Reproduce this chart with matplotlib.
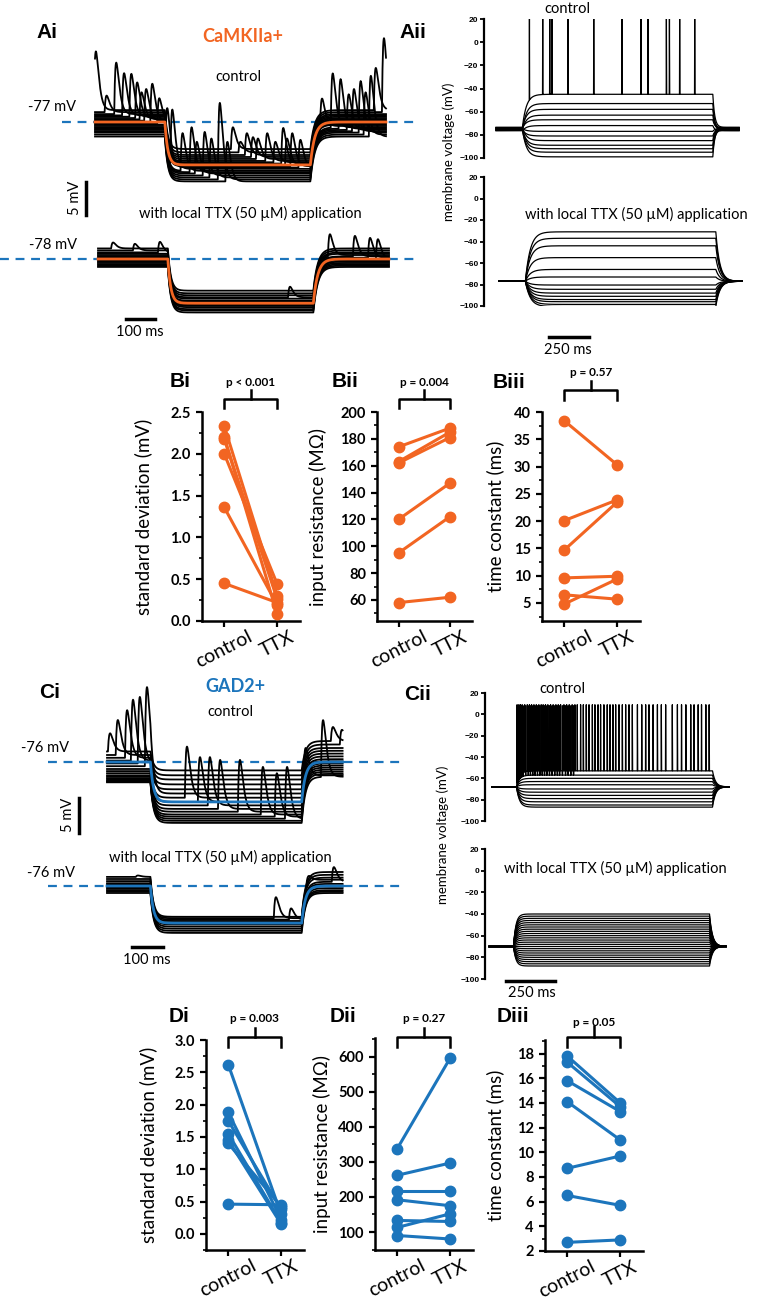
import numpy as np
import matplotlib.pyplot as plt
from matplotlib.ticker import MultipleLocator, FormatStrFormatter
from matplotlib.transforms import blended_transform_factory

plt.rcParams['font.family'] = ['Lato', 'DejaVu Sans']

W, H = 760, 1299
ORANGE = '#f26522'
BLUE = '#1c75bc'
LABEL_FONT = ['Liberation Sans', 'DejaVu Sans']
TICK_FONT = ['Liberation Sans Narrow', 'Liberation Sans', 'DejaVu Sans']

# ---------------- paired data (control -> TTX) ----------------
bi_ctrl = [2.33, 2.20, 2.18, 2.00, 1.36, 0.45]
bi_ttx = [0.30, 0.08, 0.26, 0.44, 0.19, 0.22]
bii_ctrl = [174, 163, 162, 120, 95, 58]
bii_ttx = [188, 185, 181, 147, 122, 62]
biii_ctrl = [38.4, 20.1, 14.7, 9.6, 6.5, 4.8]
biii_ttx = [30.3, 23.9, 23.5, 9.9, 5.7, 9.4]

di_ctrl = [2.62, 1.88, 1.75, 1.55, 1.45, 1.40, 0.46]
di_ttx = [0.30, 0.22, 0.38, 0.17, 0.15, 0.42, 0.45]
dii_ctrl = [338, 262, 218, 192, 133, 113, 90]
dii_ttx = [597, 297, 218, 175, 130, 152, 80]
diii_ctrl = [17.8, 17.3, 15.8, 14.1, 8.7, 6.5, 2.7]
diii_ttx = [14.0, 13.7, 13.3, 11.0, 9.7, 5.7, 2.9]

# ---------------- Ai: CaMKIIa+ sweeps (ms, mV) ----------------
ai_t_on, ai_t_off, ai_t_end = 240, 740, 1000
ai_ctrl_rest, ai_ctrl_step = -77.0, -83.5
ai_ctrl_pre = [1.8, 1.5, 1.2, 1.0, 0.8, 0.6, 0.4, 0.2, 0.0, -0.2, -0.4, -0.6, -0.8, -1.0, -1.2, -1.4, -1.6, -1.9, -2.2]
ai_ctrl_during = [2.4, 1.9, 1.5, 1.2, 0.9, 0.6, 0.4, 0.2, 0.0, -0.2, -0.4, -0.6, -0.9, -1.1, -1.3, -1.6, -1.9, -2.2, -2.5]
ai_ctrl_ev_t = [3, 40, 73, 100, 125, 145, 160, 176, 197, 221, 250, 266, 301, 332, 350, 377, 400, 429, 455, 474,
                500, 522, 543, 560, 592, 620, 647, 660, 678, 706, 780, 817, 844, 872, 890, 913, 930, 948, 965, 993]
ai_ctrl_ev_mv = [10.7, 4.0, 9.0, 7.4, 7.3, 6.0, 4.5, 5.0, 5.8, 3.6, 6.0, 7.9, 4.8, 5.7, 3.5, 5.0, 4.0, 9.4, 3.5, 5.7,
                 3.5, 4.8, 4.2, 4.0, 4.8, 3.5, 5.6, 4.0, 4.8, 3.8, 4.0, 7.4, 6.5, 4.2, 5.0, 6.2, 4.5, 7.0, 8.2, 12.7]

ai_ttx_rest, ai_ttx_step = -78.0, -84.7
ai_ttx_pre = [1.6, 1.3, 1.0, 0.8, 0.6, 0.4, 0.2, 0.0, -0.2, -0.4, -0.6, -0.8, -1.0, -1.2]
ai_ttx_during = [1.9, 1.5, 1.2, 0.9, 0.7, 0.4, 0.2, 0.0, -0.2, -0.4, -0.6, -0.9, -1.1, -1.4]
ai_ttx_ev_t = [52, 127, 213, 660, 797, 883, 935, 962]
ai_ttx_ev_mv = [2.5, 2.3, 2.6, 2.5, 3.9, 3.5, 3.2, 3.0]

# ---------------- Aii: CaMKIIa+ current steps ----------------
aii_t_on, aii_t_off, aii_t_end = 165, 1355, 1520
aii_ctrl_rest = -75.0
aii_ctrl_levels = [-45, -53, -58, -63, -67, -72, -77, -81, -85, -89, -92, -95, -99]
aii_ctrl_rest_off = [1.5, -1.2, 0.8, -0.5, 1.0, -1.5, 0.3, -0.8, 1.3, -0.2, 0.6, -1.0, 0.0]
aii_ctrl_spikes = [44, 127, 171, 185, 285, 446, 623, 741, 785, 900, 919, 983, 1077]
aii_ttx_rest = -77.0
aii_ttx_levels = [-31, -37, -44, -55, -66, -73, -80.5, -84.5, -88, -91, -94, -96, -98.5, -100.5]

# ---------------- Ci: GAD2+ sweeps ----------------
ci_t_on, ci_t_off, ci_t_end = 140, 628, 760
ci_ctrl_rest, ci_ctrl_step = -76.0, -81.7
ci_ctrl_pre = [1.5, 1.0, 0.6, 0.2, -0.2, -0.6, -1.0, -1.3, -1.6, -1.9, -2.1, -2.3, -2.5, -2.7, -2.8, -2.9]
ci_ctrl_during = [4.5, 3.8, 3.2, 2.5, 1.8, 1.2, 0.6, 0.0, -0.5, -1.0, -1.4, -1.8, -2.1, -2.4, -2.7, -3.0]
ci_ctrl_post = [3.0, 2.5, 2.0, 1.6, 1.2, 0.8, 0.4, 0.1, -0.2, -0.5, -0.8, -1.1, -1.4, -1.7, -1.9, -2.1]
ci_ctrl_ev_t = [10, 35, 65, 84, 106, 129, 258, 300, 332, 365, 429, 503, 548, 581, 639, 697, 729, 758]
ci_ctrl_ev_mv = [4.1, 6.0, 7.4, 8.9, 9.3, 10.7, 7.9, 6.4, 6.4, 6.0, 6.0, 5.0, 4.1, 5.0, 4.1, 6.0, 5.0, 4.6]

ci_ttx_rest, ci_ttx_step = -76.0, -81.3
ci_ttx_pre = [1.3, 1.0, 0.7, 0.4, 0.2, 0.0, -0.2, -0.4, -0.6, -0.8, -1.0]
ci_ttx_during = [0.9, 0.7, 0.5, 0.3, 0.1, 0.0, -0.2, -0.5, -0.8, -1.1, -1.4]
ci_ttx_post = [2.0, 1.6, 1.2, 0.9, 0.6, 0.3, 0.0, -0.3, -0.6, -0.8, -1.0]
ci_ttx_ev_t = [100, 545, 594, 648, 732]
ci_ttx_ev_mv = [1.5, 3.7, 2.1, 2.3, 2.7]

# ---------------- Cii: GAD2+ current steps ----------------
cii_t_on, cii_t_off, cii_t_end = 125, 1125, 1210
cii_ctrl_rest = -68.0
cii_ctrl_levels = [-53, -57, -60, -63, -66, -70, -73, -76, -79, -82, -85, -87]
cii_ctrl_spikes = [3, 12, 20, 29, 42, 55, 66, 77, 89, 101, 114, 126, 136, 148, 160, 174, 187, 201, 213, 225, 242,
                   256, 269, 284, 298, 310, 327, 341, 356, 370, 387, 400, 416, 429, 446, 463, 477, 492, 506, 523,
                   540, 557, 574, 591, 617, 639, 659, 676, 697, 719, 739, 761, 795, 821, 842, 864, 889, 906, 927,
                   944, 966, 983]
cii_ctrl_spikes_b = [7, 16, 25, 34, 47, 60, 71, 83, 95, 107, 119, 131, 143, 155, 168, 181, 195, 208, 220, 234,
                     250, 263, 277, 291]
cii_ttx_rest = -70.0
cii_ttx_levels = [-40, -42, -44, -46, -48, -50, -52, -54, -56, -58, -60, -62, -64, -66, -68, -70, -72, -74,
                  -76, -78, -80, -82, -84, -86, -88]


def px_axes(fig, x0, x1, y0, y1):
    """axes placed by pixel box of the 760x1299 figure"""
    ax = fig.add_axes([x0 / W, 1 - y1 / H, (x1 - x0) / W, (y1 - y0) / H])
    ax.patch.set_alpha(0)
    return ax


def ftext(fig, x, y, s, **kw):
    kw.setdefault('fontsize', 10.5)
    fig.text(x / W, 1 - y / H, s, ha='center', va='center', **kw)


def sweep(t, t_on, t_off, v_pre, v_step, v_post, tau_on, tau_off):
    v = np.full(t.shape, v_pre, dtype=float)
    m = (t >= t_on) & (t < t_off)
    v[m] = v_step + (v_pre - v_step) * np.exp(-(t[m] - t_on) / tau_on)
    v_end = v_step + (v_pre - v_step) * np.exp(-(t_off - t_on) / tau_on)
    m = t >= t_off
    v[m] = v_post + (v_end - v_post) * np.exp(-(t[m] - t_off) / tau_off)
    return v


def add_event(t, v, t_peak, amp, tau=7.0):
    x = np.clip((t - (t_peak - tau)) / tau, 0, None)
    v += amp * x * np.exp(1 - x)


def add_spikes(t, v, times, peak, width=1.2):
    for ts in times:
        d = np.abs(t - ts)
        m = d < width
        v[m] = peak - (peak - v[m]) * d[m] / width


def trace_axes(fig, box, t_px, ms_px, v_ref, v_px, mv_px):
    x0, x1, y0, y1 = box
    ax = px_axes(fig, x0, x1, y0, y1)
    ax.set_xlim((x0 - t_px) / ms_px, (x1 - t_px) / ms_px)
    ax.set_ylim(v_ref - (y1 - v_px) / mv_px, v_ref + (v_px - y0) / mv_px)
    ax.set_axis_off()
    return ax


def draw_sweeps(ax, t_on, t_off, t_end, rest, step, pre, during, post, ev_t, ev_mv, color, tau_on, tau_off):
    t = np.arange(0, t_end + 0.5, 1.0)
    mean = sweep(t, t_on, t_off, rest, step, rest, tau_on, tau_off)
    traces = [sweep(t, t_on, t_off, rest + a, step + b, rest + c, tau_on, tau_off)
              for a, b, c in zip(pre, during, post)]
    for i, (tp, h) in enumerate(zip(ev_t, ev_mv)):  # events drawn on the sweeps in turn
        v = traces[i % len(traces)]
        add_event(t, v, tp, np.interp(tp, t, mean) + h - np.interp(tp, t, v))
    for v in traces:
        ax.plot(t, v, color='black', lw=1.3)
    ax.plot(t, mean, color=color, lw=2.0)


def volt_axes(fig, box, t_px, ms_px):
    x0, x1, y0, y1 = box
    ax = px_axes(fig, x0, x1, y0, y1)
    ax.set_xlim((x0 - t_px) / ms_px, (x1 - t_px) / ms_px)
    ax.set_ylim(-100, 20)
    for s in ['top', 'right', 'bottom']:
        ax.spines[s].set_visible(False)
    ax.spines['left'].set_linewidth(1.6)
    ax.set_xticks([])
    ax.set_yticks(range(-100, 21, 20))
    ax.tick_params(axis='y', length=3, width=1.3, pad=1, labelsize=6)
    for lab in ax.get_yticklabels():
        lab.set_fontweight('bold')
        lab.set_family(TICK_FONT)
    return ax


def pair_axes(fig, box, ctrl, ttx, color, ylim, major, minor, fmt, ylabel, label_x, p_text, brk):
    x0, x1, y0, y1 = box
    ax = px_axes(fig, x0, x1, y0, y1)
    for c, tt in zip(ctrl, ttx):
        ax.plot([0, 1], [c, tt], '-o', color=color, lw=2.2, ms=7.5, clip_on=False, zorder=3)
    ax.set_xlim(-0.42, 1.43)
    ax.set_ylim(*ylim)
    for s in ['top', 'right']:
        ax.spines[s].set_visible(False)
    for s in ['left', 'bottom']:
        ax.spines[s].set_linewidth(1.8)
    ax.yaxis.set_major_locator(MultipleLocator(major))
    ax.yaxis.set_minor_locator(MultipleLocator(minor))
    ax.yaxis.set_major_formatter(FormatStrFormatter(fmt))
    ax.set_xticks([0, 1])
    ax.set_xticklabels(['control', 'TTX'], rotation=27, fontsize=14)
    ax.tick_params(which='major', length=4.5, width=1.6, labelsize=10.5)
    ax.tick_params(axis='x', labelsize=14, pad=0.5)
    ax.tick_params(which='minor', length=2.5, width=1.2)
    for lab in ax.get_yticklabels():
        lab.set_fontweight('bold')
    ax.set_ylabel(ylabel, fontsize=13.5)
    ax.yaxis.set_label_coords((label_x - x0) / (x1 - x0), 0.5)

    # significance bracket (pixel rows converted to axes fraction)
    bar, leg, riser, ty = brk
    fy = lambda y: (y1 - y) / (y1 - y0)
    trans = blended_transform_factory(ax.transData, ax.transAxes)
    ax.plot([0, 0, 1, 1], [fy(leg), fy(bar), fy(bar), fy(leg)], color='black', lw=1.8,
            transform=trans, clip_on=False)
    ax.plot([0.5, 0.5], [fy(bar), fy(riser)], color='black', lw=1.8, transform=trans, clip_on=False)
    ax.text(0.5, fy(ty), p_text, transform=trans, ha='center', va='center', fontsize=8.5, fontweight='bold')
    return ax


fig = plt.figure(figsize=(7.6, 12.99), dpi=100)

# ================= Ai =================
ax = trace_axes(fig, (0, 415, 30, 225), 95, 0.291, -77, 122, 6.6)
ax.axhline(-77, xmin=62 / 415, xmax=1, color=BLUE, lw=1.6, ls=(0, (4, 3)))
draw_sweeps(ax, ai_t_on, ai_t_off, ai_t_end, ai_ctrl_rest, ai_ctrl_step, ai_ctrl_pre, ai_ctrl_during,
            ai_ctrl_pre, ai_ctrl_ev_t, ai_ctrl_ev_mv, ORANGE, 10, 15)
ax.plot([-31, -31], [-86.1, -91.1], color='black', lw=2.5)  # 5 mV

ax = trace_axes(fig, (0, 415, 226, 340), 98, 0.291, -78, 259, 6.6)
ax.axhline(-78, color=BLUE, lw=1.6, ls=(0, (4, 3)))
draw_sweeps(ax, ai_t_on, ai_t_off, ai_t_end, ai_ttx_rest, ai_ttx_step, ai_ttx_pre, ai_ttx_during,
            ai_ttx_pre, ai_ttx_ev_t, ai_ttx_ev_mv, ORANGE, 10, 15)
ax.plot([96, 196], [-87.1, -87.1], color='black', lw=2.5)  # 100 ms

ftext(fig, 47, 32, 'Ai', fontsize=15, fontweight='bold', family=LABEL_FONT)
ftext(fig, 243, 37, 'CaMKIIa+', fontsize=13, fontweight='bold', color=ORANGE)
ftext(fig, 238, 77, 'control')
ftext(fig, 52, 107, '-77 mV')
ftext(fig, 75, 198, '5 mV', rotation=90)
ftext(fig, 250, 213, 'with local TTX (50 µM) application')
ftext(fig, 53, 245, '-78 mV')
ftext(fig, 140, 332, '100 ms')

# ================= Aii =================
t = np.arange(0, aii_t_end, 0.25)
ax = volt_axes(fig, (484, 750, 19, 158), 496, 0.16)
for k, (lev, r) in enumerate(zip(aii_ctrl_levels, aii_ctrl_rest_off)):
    v = sweep(t, aii_t_on, aii_t_off, aii_ctrl_rest + r, lev, aii_ctrl_rest + r, 25, 12)
    if k == 0:
        add_spikes(t, v, [aii_t_on + s for s in aii_ctrl_spikes], 20)
    ax.plot(t, v, color='black', lw=0.9)

ax = volt_axes(fig, (484, 750, 177, 306), 499, 0.16)
for lev in aii_ttx_levels:
    v = sweep(t, aii_t_on, aii_t_off, aii_ttx_rest, lev, aii_ttx_rest, 30, 25)
    ax.plot(t, v, color='black', lw=0.9)
ax.plot([310, 560], [-128.8, -128.8], color='black', lw=2.5, clip_on=False)  # 250 ms

ftext(fig, 413, 32, 'Aii', fontsize=15, fontweight='bold', family=LABEL_FONT)
ftext(fig, 567, 9, 'control')
ftext(fig, 449, 152, 'membrane voltage (mV)', fontsize=9.5, rotation=90)
ftext(fig, 636, 214, 'with local TTX (50 µM) application')
ftext(fig, 568, 350, '250 ms')

# ================= B =================
pair_axes(fig, (202, 300, 412, 621), bi_ctrl, bi_ttx, ORANGE, (0, 2.5), 0.5, 0.25, '%.1f',
          'standard deviation (mV)', 152, 'p < 0.001', (399, 408, 390, 382))
pair_axes(fig, (377, 472, 412, 621), bii_ctrl, bii_ttx, ORANGE, (44.3, 200), 20, 10, '%d',
          'input resistance (MΩ)', 327, 'p = 0.004', (399, 408, 390, 382))
pair_axes(fig, (542, 640, 412, 621), biii_ctrl, biii_ttx, ORANGE, (1.7, 40), 5, 2.5, '%d',
          'time constant (ms)', 504, 'p = 0.57', (390, 400, 381, 372))
for x, y, s in [(180, 382, 'Bi'), (345, 382, 'Bii'), (509, 383, 'Biii')]:
    ftext(fig, x, y, s, fontsize=15, fontweight='bold', family=LABEL_FONT)

# ================= Ci =================
ax = trace_axes(fig, (0, 410, 660, 840), 107, 0.31, -76, 762, 7.0)
ax.axhline(-76, xmin=48 / 410, xmax=403 / 410, color=BLUE, lw=1.6, ls=(0, (4, 3)))
draw_sweeps(ax, ci_t_on, ci_t_off, ci_t_end, ci_ctrl_rest, ci_ctrl_step, ci_ctrl_pre, ci_ctrl_during,
            ci_ctrl_post, ci_ctrl_ev_t, ci_ctrl_ev_mv, BLUE, 10, 12)
ax.plot([-90, -90], [-81.1, -86.1], color='black', lw=2.5)  # 5 mV

ax = trace_axes(fig, (0, 410, 841, 955), 107, 0.31, -76, 886, 7.0)
ax.axhline(-76, xmin=48 / 410, xmax=402 / 410, color=BLUE, lw=1.6, ls=(0, (4, 3)))
draw_sweeps(ax, ci_t_on, ci_t_off, ci_t_end, ci_ttx_rest, ci_ttx_step, ci_ttx_pre, ci_ttx_during,
            ci_ttx_post, ci_ttx_ev_t, ci_ttx_ev_mv, BLUE, 10, 12)
ax.plot([81, 181], [-84.7, -84.7], color='black', lw=2.5)  # 100 ms

ftext(fig, 50, 692, 'Ci', fontsize=15, fontweight='bold', family=LABEL_FONT)
ftext(fig, 235, 687, 'GAD2+', fontsize=13, fontweight='bold', color=BLUE)
ftext(fig, 230, 712, 'control')
ftext(fig, 45, 748, '-76 mV')
ftext(fig, 68, 815, '5 mV', rotation=90)
ftext(fig, 220, 857, 'with local TTX (50 µM) application')
ftext(fig, 51, 873, '-76 mV')
ftext(fig, 147, 960, '100 ms')

# ================= Cii =================
t = np.arange(0, cii_t_end, 0.25)
ax = volt_axes(fig, (485, 750, 693, 821), 492, 0.196)
for k, lev in enumerate(cii_ctrl_levels):
    v = sweep(t, cii_t_on, cii_t_off, cii_ctrl_rest, lev, cii_ctrl_rest, 15, 15)
    if k == 0:
        add_spikes(t, v, [cii_t_on + s for s in cii_ctrl_spikes], 9, 1.0)
    if k == 1:
        add_spikes(t, v, [cii_t_on + s for s in cii_ctrl_spikes_b], 8, 1.0)
    ax.plot(t, v, color='black', lw=0.9)

ax = volt_axes(fig, (485, 750, 849, 979), 489, 0.196)
for lev in cii_ttx_levels:
    v = sweep(t, cii_t_on, cii_t_off, cii_ttx_rest, lev, cii_ttx_rest, 12, 15)
    ax.plot(t, v, color='black', lw=0.9)
ax.plot([87, 337], [-101.8, -101.8], color='black', lw=2.5, clip_on=False)  # 250 ms

ftext(fig, 418, 695, 'Cii', fontsize=15, fontweight='bold', family=LABEL_FONT)
ftext(fig, 562, 689, 'control')
ftext(fig, 443, 835, 'membrane voltage (mV)', fontsize=9.5, rotation=90)
ftext(fig, 615, 868, 'with local TTX (50 µM) application')
ftext(fig, 532, 993, '250 ms')

# ================= D =================
pair_axes(fig, (206, 304, 1040, 1250), di_ctrl, di_ttx, BLUE, (-0.25, 3.0), 0.5, 0.25, '%.1f',
          'standard deviation (mV)', 157, 'p = 0.003', (1037, 1047, 1028, 1018))
pair_axes(fig, (375, 473, 1038, 1250), dii_ctrl, dii_ttx, BLUE, (48.6, 654), 100, 50, '%d',
          'input resistance (MΩ)', 331, 'p = 0.27', (1037, 1047, 1028, 1018))
pair_axes(fig, (545, 643, 1040, 1251), diii_ctrl, diii_ttx, BLUE, (2, 19.1), 2, 1, '%d',
          'time constant (ms)', 504, 'p = 0.05', (1037, 1047, 1026, 1022))
for x, y, s in [(179, 1017, 'Di'), (343, 1017, 'Dii'), (513, 1017, 'Diii')]:
    ftext(fig, x, y, s, fontsize=15, fontweight='bold', family=LABEL_FONT)

fig.savefig('out.png', dpi=100)
